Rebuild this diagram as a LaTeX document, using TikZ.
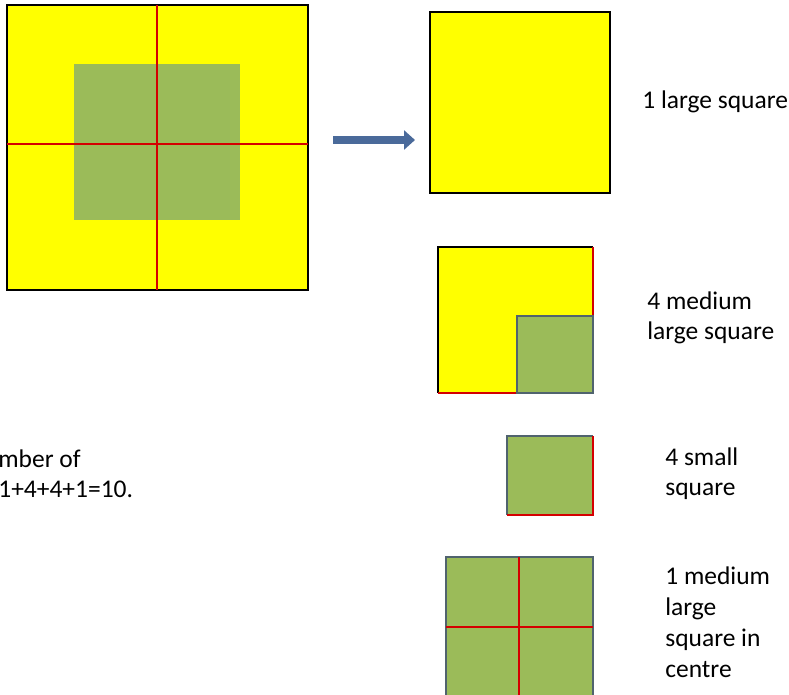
\documentclass[tikz,border=0pt]{standalone}
\usepackage{fontspec}
\setmainfont{Carlito}
\usetikzlibrary{arrows.meta}
\definecolor{square yellow}{HTML}{FFFF00}
\definecolor{square green}{HTML}{9BBB59}
\definecolor{green edge}{HTML}{50636E}
\definecolor{cut red}{HTML}{D40000}
\definecolor{arrow blue}{HTML}{4A6A9A}
\def\bigsquare{(7,5) rectangle (308,290)}
\def\centresquare{(74,64) rectangle (240,220)}
\def\largesquare{(430,12) rectangle (610,193)}
\def\mediumsquare{(438,247) rectangle (593,393)}
\def\cornersquare{(517,316) rectangle (593,393)}
\def\smallsquare{(507,436) rectangle (593,515)}
\def\middlesquare{(446,557) rectangle (593,697)}
\tikzset{yellowsq/.style={fill=square yellow, draw=black, line width=0.05cm},
    greensq/.style={fill=square green, draw=green edge, line width=0.05cm},
    blackedge/.style={draw=black, line width=0.05cm},
    greenedge/.style={draw=green edge, line width=0.05cm},
    cutline/.style={draw=cut red, line width=0.05cm},
    caption/.style={anchor=base west, inner sep=0pt, font=\fontsize{14.5}{17}\selectfont}}

\begin{document}
\begin{tikzpicture}[x=0.02cm, y=-0.02cm]
    \useasboundingbox (0,0) rectangle (789,695);
    % whole figure
    \draw[yellowsq] \bigsquare;
    \fill[square green] \centresquare;
    \draw[cutline] (157,5) -- (157,290);
    \draw[cutline] (7,144) -- (308,144);
    % arrow
    \coordinate (arrow tail) at (333,140);
    \coordinate (arrow tip) at (415,140);
    \draw[arrow blue, line width=0.15cm, -{Triangle[length=0.22cm, width=0.38cm]}] (arrow tail) -- (arrow tip);
    % 1 large square
    \draw[yellowsq] \largesquare;
    % medium large square
    \fill[square yellow] \mediumsquare;
    \draw[blackedge] (593,247) -- (438,247) -- (438,393);
    \draw[cutline] (438,393) -- (517,393);
    \draw[cutline] (593,247) -- (593,316);
    \draw[greensq] \cornersquare;
    % small square
    \fill[square green] \smallsquare;
    \draw[greenedge] (593,436) -- (507,436) -- (507,515);
    \draw[cutline] (507,515) -- (593,515) -- (593,436);
    % medium large square in centre
    \draw[greensq] \middlesquare;
    \draw[cutline] (519,557) -- (519,697);
    \draw[cutline] (446,627) -- (593,627);
    % texts
    \node[caption] (large) at (642,109) {1 large square};
    \node[caption] (medium a) at (647,310) {4 medium};
    \node[caption] (medium b) at (647,340) {large square};
    \node[caption] (small a) at (665,466) {4 small};
    \node[caption] (small b) at (665,496) {square};
    \node[caption] (centre a) at (665,585) {1 medium};
    \node[caption] (centre b) at (665,616) {large};
    \node[caption] (centre c) at (665,647) {square in};
    \node[caption] (centre d) at (665,678) {centre};
    \node[caption] (total a) at (-2,468) {mber of};
    \node[caption] (total b) at (-2,498) {1+4+4+1=10.};
\end{tikzpicture}
\end{document}
